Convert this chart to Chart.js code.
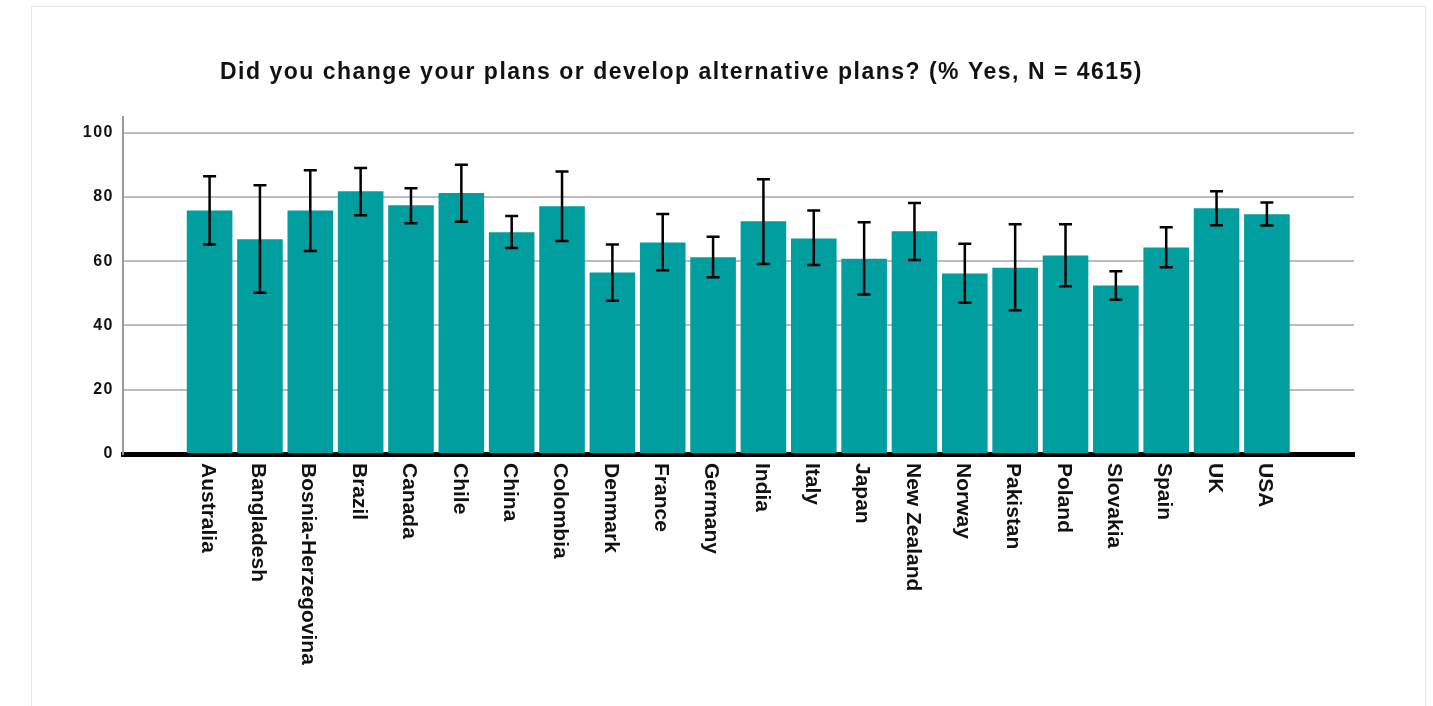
<!DOCTYPE html>
<html>
<head>
<meta charset="utf-8">
<script src="https://cdn.jsdelivr.net/npm/chart.js@4/dist/chart.umd.min.js"></script>
<style>
  html, body { margin: 0; padding: 0; background: #fff; overflow: hidden; }
  #card {
    position: absolute; left: 31px; top: 6px; width: 1393px; height: 760px;
    border: 1px solid #e3e7ee; background: #fff;
  }
  #chart { position: absolute; left: 0; top: 0; }
</style>
</head>
<body>
<div id="card"></div>
<canvas id="chart" width="1363" height="706"></canvas>
<script>
const countries = [
  "Australia", "Bangladesh", "Bosnia-Herzegovina", "Brazil", "Canada", "Chile",
  "China", "Colombia", "Denmark", "France", "Germany", "India", "Italy", "Japan",
  "New Zealand", "Norway", "Pakistan", "Poland", "Slovakia", "Spain", "UK", "USA",
];
const yesPct = [75.8, 66.8, 75.8, 81.8, 77.4, 81.2, 69.0, 77.1, 56.5, 65.8, 61.2,
  72.4, 67.1, 60.8, 69.3, 56.2, 58.0, 61.8, 52.4, 64.3, 76.5, 74.6];
const ciLow = [65.2, 50.2, 63.2, 74.3, 71.8, 72.3, 64.1, 66.3, 47.7, 57.2, 55.0,
  59.1, 58.8, 49.6, 60.4, 47.1, 44.7, 52.2, 48.0, 58.1, 71.2, 71.1];
const ciHigh = [86.4, 83.6, 88.3, 89.0, 82.7, 90.0, 74.1, 87.9, 65.2, 74.7, 67.6,
  85.5, 75.8, 72.1, 78.1, 65.4, 71.5, 71.5, 56.9, 70.6, 81.8, 78.3];
const yTicks = [0, 20, 40, 60, 80, 100];

const FONT = "'Liberation Sans', Arial, Helvetica, sans-serif";

// letter spacing for title and y ticks
const spacingPlugin = {
  id: "spacing",
  beforeDraw(chart) {
    chart.ctx.letterSpacing = "1.5px";
  },
};

const errorBars = {
  id: "errorBars",
  afterDatasetsDraw(chart) {
    const ctx = chart.ctx;
    const y = chart.scales.y;
    const meta = chart.getDatasetMeta(0);
    ctx.save();
    ctx.strokeStyle = "#000";
    ctx.lineWidth = 2.5;
    meta.data.forEach((bar, i) => {
      const top = y.getPixelForValue(ciHigh[i]);
      const bottom = y.getPixelForValue(ciLow[i]);
      ctx.beginPath();
      ctx.moveTo(bar.x, top);
      ctx.lineTo(bar.x, bottom);
      ctx.moveTo(bar.x - 6.5, top);
      ctx.lineTo(bar.x + 6.5, top);
      ctx.moveTo(bar.x - 6.5, bottom);
      ctx.lineTo(bar.x + 6.5, bottom);
      ctx.stroke();
    });
    ctx.restore();
  },
};

// category labels read top-to-bottom under each bar
const xLabels = {
  id: "xLabels",
  afterDraw(chart) {
    const ctx = chart.ctx;
    const x = chart.scales.x;
    const top = chart.chartArea.bottom + 9;
    ctx.save();
    ctx.letterSpacing = "0px";
    ctx.font = "bold 21px " + FONT;
    ctx.fillStyle = "#111";
    ctx.textAlign = "left";
    ctx.textBaseline = "middle";
    countries.forEach((name, i) => {
      ctx.save();
      ctx.translate(x.getPixelForValue(i) - 2, top);
      ctx.rotate(Math.PI / 2);
      ctx.fillText(name, 0, 0);
      ctx.restore();
    });
    ctx.restore();
  },
};

new Chart(document.getElementById("chart"), {
  type: "bar",
  data: {
    datasets: [
      {
        data: yesPct.map((v, i) => ({ x: i, y: v })),
        backgroundColor: "#019e9f",
        borderWidth: 0,
        barPercentage: 0.906,
        categoryPercentage: 1,
      },
    ],
  },
  options: {
    responsive: false,
    animation: false,
    devicePixelRatio: 1,
    layout: { padding: { left: 9, right: 9, top: 0, bottom: 0 } },
    plugins: {
      legend: { display: false },
      tooltip: { enabled: false },
      title: {
        display: true,
        text: "Did you change your plans or develop alternative plans? (% Yes, N = 4615)",
        color: "#111",
        font: { family: FONT, size: 23, weight: "bold" },
        padding: { top: 59, bottom: 30 },
      },
    },
    scales: {
      x: {
        type: "linear",
        offset: false,
        min: -1.72,
        max: 22.73,
        grid: { display: false },
        ticks: { display: false },
        border: { display: true, color: "#000", width: 5 },
        afterFit(scale) {
          scale.height = 252;
        },
      },
      y: {
        min: 0,
        max: 105,
        afterBuildTicks(scale) {
          scale.ticks = yTicks.map((v) => ({ value: v }));
        },
        grid: {
          color: (c) => (c.tick && c.tick.value === 0 ? "rgba(0,0,0,0)" : "#bcbcbc"),
          lineWidth: 2,
          drawTicks: false,
        },
        border: { display: true, color: "#9a9a9a", width: 2 },
        ticks: {
          color: "#111",
          padding: 9,
          font: { family: FONT, size: 16, weight: "bold" },
        },
        afterFit(scale) {
          scale.width = 114;
        },
      },
    },
  },
  plugins: [spacingPlugin, errorBars, xLabels],
});
</script>
</body>
</html>
